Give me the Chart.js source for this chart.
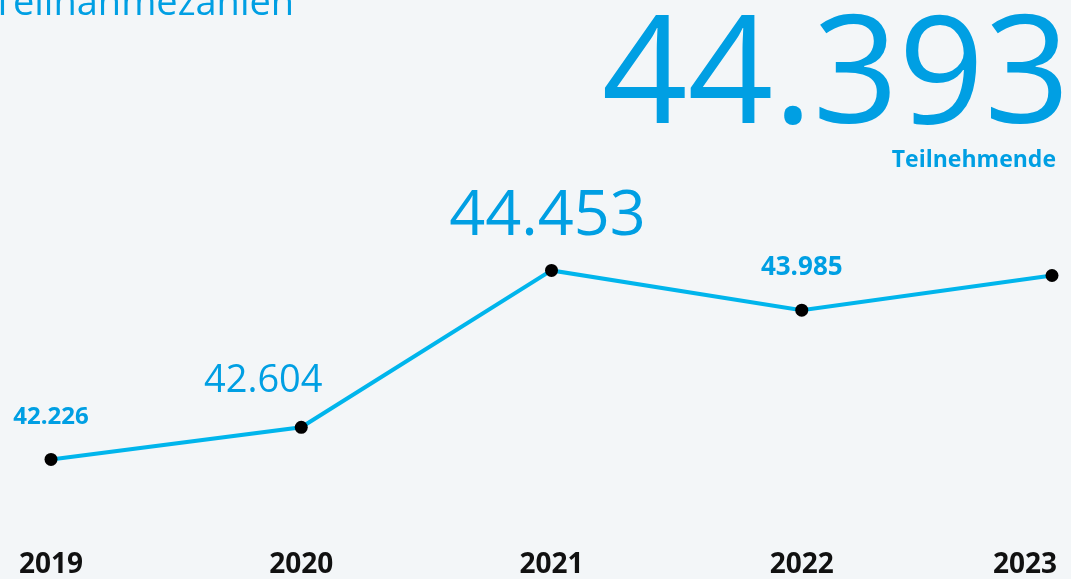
<!DOCTYPE html>
<html lang="de">
<head>
    <meta charset="UTF-8">
    <title>Teilnahmezahlen</title>
    <script src="https://cdn.jsdelivr.net/npm/chart.js"></script>
    <style>
        body {
            margin: 0;
            background: #f3f6f8;
            font-family: 'Open Sans', 'Noto Sans', sans-serif;
        }

        #wrap {
            position: relative;
            width: 1071px;
            height: 579px;
            overflow: hidden;
        }

        #chart {
            position: absolute;
            left: 0;
            top: 0;
        }

        .txt {
            position: absolute;
            line-height: 1;
            color: #009fe3;
            white-space: nowrap;
        }

        #title {
            left: -8px;
            top: -19px;
            font-size: 38px;
        }

        #total {
            right: 1px;
            top: -10px;
            font-size: 150px;
        }

        #totalLabel {
            right: 15px;
            top: 147px;
            font-size: 23px;
            font-weight: 700;
        }
    </style>
</head>
<body>
    <div id="wrap">
        <canvas id="chart" width="1071" height="579"></canvas>
        <div class="txt" id="title">Teilnahmezahlen</div>
        <div class="txt" id="total"></div>
        <div class="txt" id="totalLabel">Teilnehmende</div>
    </div>

    <script>
        // data
        const years = ['2019', '2020', '2021', '2022', '2023'];
        const participants = [42226, 42604, 44453, 43985, 44393];
        // which points get a value label above them (2023 is shown as the big number)
        const showLabel = [true, true, true, true, false];

        // label looks per point
        const labelStyle = [
            { size: 24, weight: 'bold', dx: 0 },
            { size: 38, weight: 'normal', dx: -38 },
            { size: 63, weight: 'normal', dx: -4 },
            { size: 26, weight: 'bold', dx: 0 },
            { size: 24, weight: 'bold', dx: 0 }
        ];

        const blue = '#009fe3';
        const lineBlue = '#00b5ec';
        const font = "'Open Sans', 'Noto Sans', sans-serif";
        const fmt = n => n.toLocaleString('de-DE');

        document.getElementById('total').textContent = fmt(participants[participants.length - 1]);

        const valueLabels = {
            id: 'valueLabels',
            afterDatasetsDraw(chart) {
                const c = chart.ctx;
                const pts = chart.getDatasetMeta(0).data;
                c.save();
                c.fillStyle = blue;
                c.textAlign = 'center';
                c.textBaseline = 'alphabetic';
                pts.forEach((p, i) => {
                    if (!showLabel[i]) return;
                    const s = labelStyle[i];
                    c.font = `${s.weight} ${s.size}px ${font}`;
                    c.fillText(fmt(participants[i]), p.x + s.dx, p.y - 35);
                });
                c.restore();
            }
        };

        // year labels under the x ticks, kept inside the canvas at the edges
        const yearLabels = {
            id: 'yearLabels',
            afterDraw(chart) {
                const c = chart.ctx;
                const x = chart.scales.x;
                c.save();
                c.fillStyle = '#111';
                c.font = `bold 28px ${font}`;
                c.textAlign = 'center';
                c.textBaseline = 'alphabetic';
                x.ticks.forEach((t, i) => {
                    const txt = x.getLabelForValue(t.value);
                    const w = c.measureText(txt).width;
                    let px = x.getPixelForTick(i);
                    px = Math.min(px, chart.width - 14 - w / 2);
                    px = Math.max(px, w / 2);
                    c.fillText(txt, px, 573);
                });
                c.restore();
            }
        };

        new Chart(document.getElementById('chart'), {
            type: 'line',
            data: {
                labels: years,
                datasets: [{
                    data: participants,
                    borderColor: lineBlue,
                    borderWidth: 4,
                    tension: 0,
                    pointRadius: 6.5,
                    pointHoverRadius: 6.5,
                    pointBackgroundColor: '#000',
                    pointBorderWidth: 0,
                    clip: false
                }]
            },
            options: {
                responsive: false,
                animation: false,
                layout: {
                    padding: { top: 224, left: 51, right: 19, bottom: 0 }
                },
                plugins: {
                    legend: { display: false },
                    tooltip: { enabled: false }
                },
                scales: {
                    x: {
                        grid: { display: false },
                        border: { display: false },
                        ticks: { display: false },
                        afterFit(scale) {
                            scale.paddingLeft = 0;
                            scale.paddingRight = 0;
                            scale.height = 58;
                        }
                    },
                    y: {
                        display: false,
                        min: 41500,
                        max: 45000
                    }
                }
            },
            plugins: [valueLabels, yearLabels]
        });
    </script>
</body>
</html>
